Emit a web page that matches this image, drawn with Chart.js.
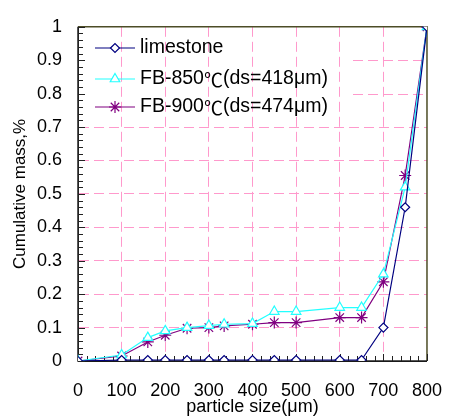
<!DOCTYPE html>
<html lang="en">
<head>
  <meta charset="UTF-8" />
  <title>Cumulative mass vs particle size</title>
  <script src="https://cdn.jsdelivr.net/npm/chart.js"></script>
  <style>
    body {
      margin: 0;
      padding: 0;
      background: white;
    }
    .wrap {
      width: 461px;
      height: 416px;
    }
  </style>
</head>
<body>

<div class="wrap">
  <canvas id="sizeChart" width="461" height="416"></canvas>
</div>

<script>
// particle sizes (μm)
const sizes = [0, 100, 160, 200, 250, 300, 335, 400, 450, 500, 600, 650, 700, 750, 800];

// cumulative mass fractions
const limestone = [0, 0.003, 0.003, 0.003, 0.003, 0.003, 0.003, 0.003, 0.003, 0.003, 0.003, 0.003, 0.10, 0.46, 1];
const fb850 = [0, 0.018, 0.07, 0.09, 0.10, 0.106, 0.11, 0.112, 0.148, 0.148, 0.16, 0.16, 0.26, 0.52, 1];
const fb900 = [0, 0.015, 0.057, 0.077, 0.098, 0.10, 0.105, 0.11, 0.115, 0.115, 0.13, 0.13, 0.237, 0.555, 1];

// legend text split so the ℃ sign can use a CJK font
const seriesNames = ["limestone", "FB-850℃(ds=418μm)", "FB-900℃(ds=474μm)"];
const legendParts = [["limestone"], ["FB-850", "℃", "(ds=418μm)"], ["FB-900", "℃", "(ds=474μm)"]];

const xTicks = [0, 100, 200, 300, 400, 500, 600, 700, 800];
const yTicks = [0, 0.1, 0.2, 0.3, 0.4, 0.5, 0.6, 0.7, 0.8, 0.9, 1];

const gridPink = "#ff99cc";
const fontFamily = "'Liberation Sans', Arial, sans-serif";
const cjkFamily = "'Noto Sans CJK SC', sans-serif";

function toPoints(vals) {
  return sizes.map((s, i) => ({ x: s, y: vals[i] }));
}

// axes, inward ticks, frame and the grid gap behind the legend
const axisDecor = {
  id: "axisDecor",
  beforeDatasetsDraw(chart) {
    const ctx = chart.ctx;
    const xs = chart.scales.x;
    const ys = chart.scales.y;
    const area = chart.chartArea;
    ctx.save();

    // right part of the 0.8 / 0.9 grid lines (left part is under the legend)
    ctx.strokeStyle = gridPink;
    ctx.lineWidth = 1;
    ctx.setLineDash([10, 5]);
    [0.8, 0.9].forEach(v => {
      const y = Math.round(ys.getPixelForValue(v)) + 0.5;
      ctx.beginPath();
      ctx.moveTo(353, y);
      ctx.lineTo(area.right, y);
      ctx.stroke();
    });
    ctx.setLineDash([]);

    // top and right frame
    ctx.strokeStyle = "#4d4d26";
    ctx.lineWidth = 1.5;
    ctx.beginPath();
    ctx.moveTo(area.left, area.top);
    ctx.lineTo(area.right, area.top);
    ctx.lineTo(area.right, area.bottom);
    ctx.stroke();

    // left and bottom axes
    ctx.strokeStyle = "#222";
    ctx.beginPath();
    ctx.moveTo(area.left, area.top);
    ctx.lineTo(area.left, area.bottom);
    ctx.lineTo(area.right, area.bottom);
    ctx.stroke();

    ctx.lineWidth = 1;
    for (let i = 0; i <= 50; i++) {
      const y = Math.round(ys.getPixelForValue(i * 0.02)) + 0.5;
      const len = i % 5 === 0 ? 7 : 5;
      ctx.beginPath();
      ctx.moveTo(area.left, y);
      ctx.lineTo(area.left + len, y);
      ctx.stroke();
    }
    for (let i = 0; i <= 40; i++) {
      const x = Math.round(xs.getPixelForValue(i * 20)) + 0.5;
      const len = i % 5 === 0 ? 7 : 5;
      ctx.beginPath();
      ctx.moveTo(x, area.bottom);
      ctx.lineTo(x, area.bottom - len);
      ctx.stroke();
    }
    ctx.restore();
  }
};

const legendBox = {
  id: "legendBox",
  afterDatasetsDraw(chart) {
    const ctx = chart.ctx;
    const rows = [48, 79, 107];
    ctx.save();
    ctx.textBaseline = "middle";
    chart.data.datasets.forEach((ds, i) => {
      const y = rows[i];
      ctx.strokeStyle = ds.borderColor;
      ctx.lineWidth = 1.2;
      ctx.beginPath();
      ctx.moveTo(95, y);
      ctx.lineTo(135, y);
      ctx.stroke();
      ctx.fillStyle = "#ffffff";
      Chart.helpers.drawPoint(ctx, {
        pointStyle: ds.pointStyle,
        radius: ds.pointRadius,
        borderWidth: 1.2
      }, 115, y);
      ctx.fillStyle = "#000";
      let x = 140;
      legendParts[i].forEach(part => {
        ctx.font = part === "℃" ? "19px " + cjkFamily : "19.5px " + fontFamily;
        ctx.fillText(part, x, part === "℃" ? y + 1 : y);
        x += ctx.measureText(part).width;
      });
    });
    ctx.restore();
  }
};

const ctx = document.getElementById("sizeChart").getContext("2d");

new Chart(ctx, {
  type: "line",
  data: {
    datasets: [
      {
        label: seriesNames[0],
        data: toPoints(limestone),
        borderColor: "#000080",
        pointBackgroundColor: "#ffffff",
        borderWidth: 1.2,
        pointStyle: "rectRot",
        pointRadius: 4.5,
        pointBorderWidth: 1.2
      },
      {
        label: seriesNames[1],
        data: toPoints(fb850),
        borderColor: "#22ffff",
        pointBackgroundColor: "#ffffff",
        borderWidth: 1.2,
        pointStyle: "triangle",
        pointRadius: 5.5,
        pointBorderWidth: 1.2
      },
      {
        label: seriesNames[2],
        data: toPoints(fb900),
        borderColor: "#800080",
        pointBackgroundColor: "#ffffff",
        borderWidth: 1.2,
        pointStyle: "star",
        pointRadius: 6,
        pointBorderWidth: 1.2
      }
    ]
  },
  options: {
    responsive: false,
    animation: false,
    layout: { padding: { top: 20, right: 21, left: 0, bottom: 0 } },
    plugins: {
      legend: { display: false },
      tooltip: { enabled: false }
    },
    scales: {
      x: {
        type: "linear",
        min: 0,
        max: 800,
        afterFit: s => { s.height = 55; },
        afterBuildTicks: s => { s.ticks = xTicks.map(v => ({ value: v })); },
        border: { color: "#000", width: 1, dash: [10, 5] },
        grid: {
          drawTicks: false,
          color: c => (c.tick.value === 0 || c.tick.value === 800) ? "rgba(0,0,0,0)" : gridPink
        },
        ticks: {
          padding: 19,
          color: "#000",
          font: { family: fontFamily, size: 18 }
        },
        title: {
          display: true,
          text: "particle size(μm)",
          color: "#000",
          padding: { top: 0, bottom: 0 },
          font: { family: fontFamily, size: 18, lineHeight: 1 }
        }
      },
      y: {
        min: 0,
        max: 1,
        afterFit: s => { s.width = 78; },
        afterBuildTicks: s => { s.ticks = yTicks.map(v => ({ value: v })); },
        border: { color: "#222", width: 1, dash: [10, 5] },
        grid: {
          drawTicks: false,
          color: c => {
            const v = Math.round(c.tick.value * 10) / 10;
            return (v === 0 || v === 1 || v === 0.8 || v === 0.9) ? "rgba(0,0,0,0)" : gridPink;
          }
        },
        ticks: {
          padding: 16,
          color: "#000",
          font: { family: fontFamily, size: 18 },
          callback: v => String(Math.round(v * 10) / 10)
        },
        title: {
          display: true,
          text: "Cumulative mass,%",
          color: "#000",
          padding: { top: 10, bottom: 0 },
          font: { family: fontFamily, size: 17, lineHeight: 1.2 }
        }
      }
    }
  },
  plugins: [axisDecor, legendBox]
});
</script>

</body>
</html>
